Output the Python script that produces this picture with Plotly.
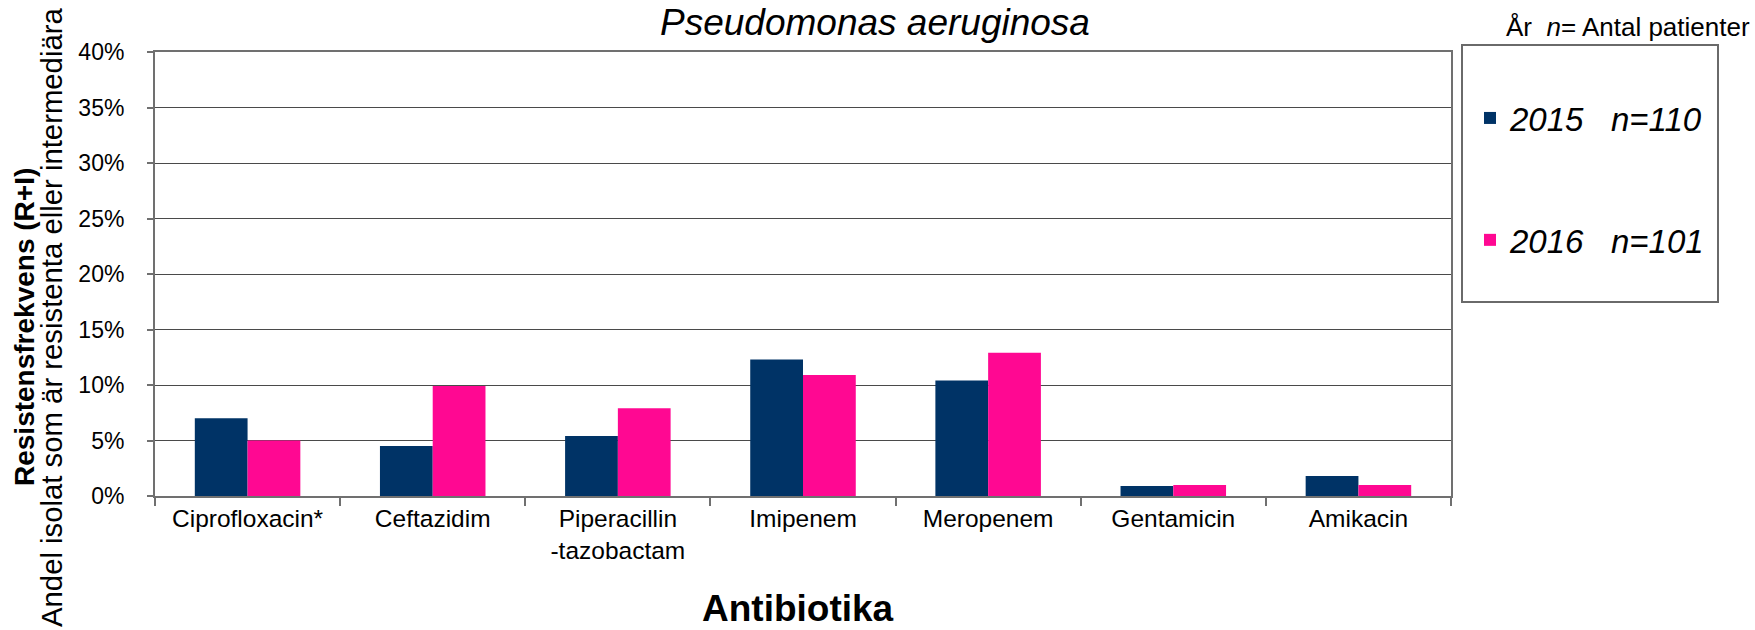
import plotly.graph_objects as go

# data (percent resistant, R+I)
antibiotics = [
    "Ciprofloxacin*",
    "Ceftazidim",
    "Piperacillin<br>-tazobactam",
    "Imipenem",
    "Meropenem",
    "Gentamicin",
    "Amikacin",
]
res_2015 = [7.0, 4.5, 5.4, 12.3, 10.4, 0.9, 1.8]
res_2016 = [5.0, 9.9, 7.9, 10.9, 12.9, 1.0, 1.0]
series_names = ["2015\u00a0\u00a0\u00a0n=110", "2016\u00a0\u00a0\u00a0n=101"]
y_ticks = [0, 5, 10, 15, 20, 25, 30, 35, 40]

NAVY = "#003366"
PINK = "#FF0892"
FONT = "Liberation Sans, Arial, sans-serif"

# plot area in pixels (1755 x 630 page)
L, R, T, B = 155, 1451, 52, 496
W, H = 1755, 630


def px_x(x):
    return (x - L) / (R - L)


def px_y(y):
    return (B - y) / (B - T)


fig = go.Figure()
fig.add_trace(go.Bar(
    x=antibiotics, y=res_2015, name=series_names[0],
    marker=dict(color=NAVY, line=dict(width=0)), legendgroup="a",
))
fig.add_trace(go.Bar(
    x=antibiotics, y=res_2016, name=series_names[1],
    marker=dict(color=PINK, line=dict(width=0)), legendgroup="b",
))

fig.update_layout(
    width=W, height=H,
    margin=dict(l=L, r=W - R, t=T, b=H - B, pad=0, autoexpand=False),
    paper_bgcolor="white",
    plot_bgcolor="white",
    font=dict(family=FONT, color="black", size=23),
    barmode="group",
    bargap=0.43,
    bargroupgap=0,
    title=dict(
        text="Pseudomonas aeruginosa",
        font=dict(family=FONT, size=37, style="italic", color="black"),
        xref="paper", x=px_x(875), xanchor="center",
        yref="container", y=1 - 22 / H, yanchor="middle",
    ),
    legend=dict(
        xref="container", yref="container",
        x=1470 / W, xanchor="left",
        y=1 - 90 / H, yanchor="top",
        font=dict(family=FONT, size=33, style="italic", color="black"),
        bgcolor="rgba(0,0,0,0)",
        borderwidth=0,
        tracegroupgap=76,
        traceorder="grouped",
    ),
    showlegend=True,
)

fig.update_xaxes(
    type="category",
    showline=True, linecolor="#707070", linewidth=2, mirror=True,
    ticks="outside", tickson="boundaries", ticklen=8,
    tickcolor="#707070", tickwidth=2,
    tickfont=dict(size=24.5),
    showgrid=False,
    automargin=False,
)
fig.update_yaxes(
    range=[0, 40],
    tickvals=y_ticks,
    ticktext=[f"{v}%" for v in y_ticks],
    showline=True, linecolor="#707070", linewidth=2, mirror=True,
    ticks="outside", ticklen=6, tickcolor="#707070", tickwidth=2,
    ticklabelstandoff=18,
    tickfont=dict(size=23),
    showgrid=True, gridcolor="#4a4a4a", gridwidth=1,
    zeroline=False,
    automargin=False,
)

# legend frame
fig.add_shape(
    type="rect", xref="paper", yref="paper",
    x0=px_x(1462), x1=px_x(1718), y0=px_y(302), y1=px_y(45),
    line=dict(color="#6a6a6a", width=2), fillcolor="rgba(0,0,0,0)",
    layer="above",
)

fig.add_annotation(
    text="År\u00a0\u00a0<i>n</i>= Antal patienter",
    xref="paper", yref="paper", x=px_x(1752), y=px_y(27),
    xanchor="right", yanchor="middle", showarrow=False,
    font=dict(family=FONT, size=26, color="black"),
)
fig.add_annotation(
    text="<b>Antibiotika</b>",
    xref="paper", yref="paper", x=px_x(798), y=px_y(631),
    xanchor="center", yanchor="bottom", showarrow=False,
    font=dict(family=FONT, size=37, color="black"),
)
fig.add_annotation(
    text="<b>Resistensfrekvens (R+I)</b>",
    xref="paper", yref="paper", x=px_x(24), y=px_y(327),
    xanchor="center", yanchor="middle", showarrow=False, textangle=-90,
    font=dict(family=FONT, size=28, color="black"),
)
fig.add_annotation(
    text="Andel isolat som är resistenta eller intermediära",
    xref="paper", yref="paper", x=px_x(51), y=px_y(318),
    xanchor="center", yanchor="middle", showarrow=False, textangle=-90,
    font=dict(family=FONT, size=29.3, color="black"),
)

# drop the default page margin so the figure sits at the window's corner
fig.write_html(
    "out.html",
    config={"displayModeBar": False},
    post_script="document.body.style.margin='0';",
)
